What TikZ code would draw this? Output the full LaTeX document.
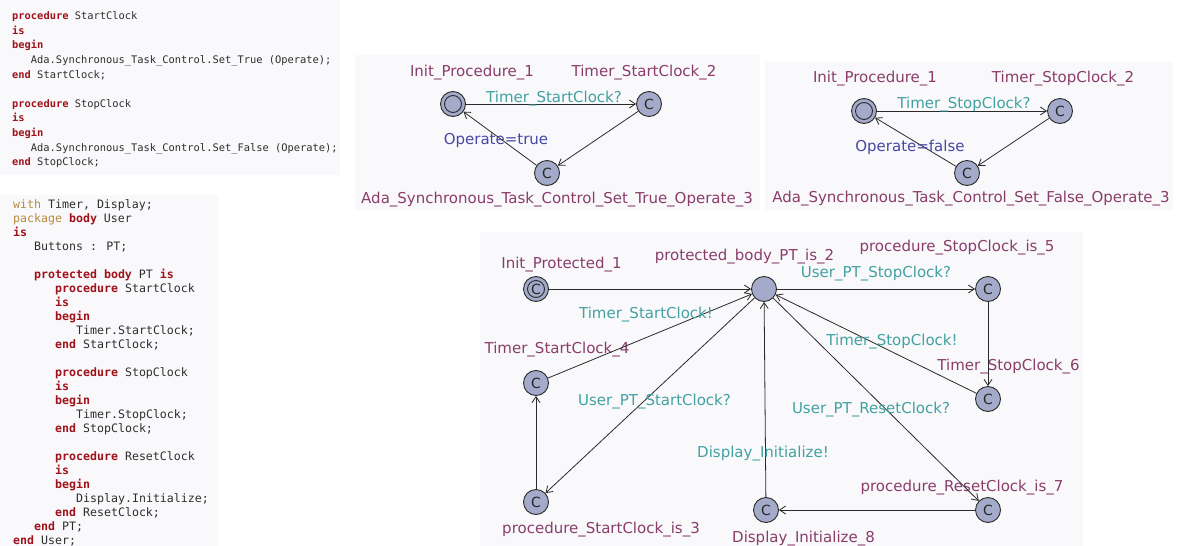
\documentclass[tikz,border=0pt]{standalone}
\usepackage{fontspec}
\setmainfont{DejaVu Sans}
\newfontfamily\codefont{DejaVu Sans Mono}
\usetikzlibrary{arrows.meta}

\definecolor{panelbg}{HTML}{F9F9FB}
\definecolor{locfill}{HTML}{A4ABCA}
\definecolor{edgecol}{HTML}{2A2A2A}
\definecolor{namecol}{HTML}{8A3D6B}
\definecolor{synccol}{HTML}{43A1A1}
\definecolor{updcol}{HTML}{4747A5}
\definecolor{kwred}{HTML}{A0121B}
\definecolor{pkgold}{HTML}{B7893C}
\definecolor{codetext}{HTML}{2E2E2E}

% Ada syntax colouring
\newcommand\kw[1]{{\bfseries\color{kwred}#1}}
\newcommand\pk[1]{{\color{pkgold}#1}}

\tikzset{
  panel/.style={fill=panelbg, draw=none},
  loc/.style={circle, draw=edgecol, fill=locfill, line width=0.9pt,
    minimum size=25pt, inner sep=0pt, text=black!85,
    font=\fontsize{14}{14}\selectfont},
  initloc/.style={loc, path picture={\draw[edgecol, line width=0.9pt]
    (path picture bounding box.center) circle (8.5pt);}},
  locname/.style={anchor=base, inner sep=0pt, text=namecol,
    font=\fontsize{15}{16}\selectfont},
  sync/.style={locname, text=synccol},
  upd/.style={locname, text=updcol},
  trans/.style={draw=edgecol, line width=0.8pt,
    -{Straight Barb[length=6pt,width=8pt]}},
  codeA/.style={anchor=base west, inner sep=0pt, text=codetext,
    font=\codefont\fontsize{10.4}{12}\selectfont},
  codeB/.style={anchor=base west, inner sep=0pt, text=codetext,
    font=\codefont\fontsize{11.6}{13}\selectfont},
}

\begin{document}
\begin{tikzpicture}[x=1pt, y=-1pt]
\useasboundingbox (0,0) rectangle (1184,546);

% background panels
\fill[panel] (0,0) rectangle (340,175);
\fill[panel] (0,195) rectangle (218,546);
\fill[panel] (355,55) rectangle (760,210);
\fill[panel] (765,62) rectangle (1173,210);
\fill[panel] (480,232) rectangle (1083,546);

% ---------- procedures StartClock / StopClock ----------
\node[codeA] (a1)  at (12,19.7)    {\kw{procedure} StartClock};
\node[codeA] (a2)  at (12,34.3)    {\kw{is}};
\node[codeA] (a3)  at (12,48.9)    {\kw{begin}};
\node[codeA] (a4)  at (30.75,63.5) {Ada.Synchronous\_Task\_Control.Set\_True (Operate);};
\node[codeA] (a5)  at (12,78.1)    {\kw{end} StartClock;};
\node[codeA] (a7)  at (12,107.3)   {\kw{procedure} StopClock};
\node[codeA] (a8)  at (12,121.9)   {\kw{is}};
\node[codeA] (a9)  at (12,136.5)   {\kw{begin}};
\node[codeA] (a10) at (30.75,151.1){Ada.Synchronous\_Task\_Control.Set\_False (Operate);};
\node[codeA] (a11) at (12,165.7)   {\kw{end} StopClock;};

% ---------- package body User ----------
\node[codeB] (b1)  at (13,208.2) {\pk{with} Timer, Display;};
\node[codeB] (b2)  at (13,222.2) {\pk{package} \kw{body} User};
\node[codeB] (b3)  at (13,236.2) {\kw{is}};
\node[codeB] (b4)  at (34,250.2) {Buttons : PT;};
\node[codeB] (b6)  at (34,278.2) {\kw{protected} \kw{body} PT \kw{is}};
\node[codeB] (b7)  at (55,292.2) {\kw{procedure} StartClock};
\node[codeB] (b8)  at (55,306.2) {\kw{is}};
\node[codeB] (b9)  at (55,320.2) {\kw{begin}};
\node[codeB] (b10) at (76,334.2) {Timer.StartClock;};
\node[codeB] (b11) at (55,348.2) {\kw{end} StartClock;};
\node[codeB] (b13) at (55,376.2) {\kw{procedure} StopClock};
\node[codeB] (b14) at (55,390.2) {\kw{is}};
\node[codeB] (b15) at (55,404.2) {\kw{begin}};
\node[codeB] (b16) at (76,418.2) {Timer.StopClock;};
\node[codeB] (b17) at (55,432.2) {\kw{end} StopClock;};
\node[codeB] (b19) at (55,460.2) {\kw{procedure} ResetClock};
\node[codeB] (b20) at (55,474.2) {\kw{is}};
\node[codeB] (b21) at (55,488.2) {\kw{begin}};
\node[codeB] (b22) at (76,502.2) {Display.Initialize;};
\node[codeB] (b23) at (55,516.2) {\kw{end} ResetClock;};
\node[codeB] (b24) at (34,530.2) {\kw{end} PT;};
\node[codeB] (b25) at (13,544.2) {\kw{end} User;};

% ---------- automaton: StartClock ----------
\node[initloc] (sa1) at (453,104) {};
\node[loc]     (sa2) at (649,104) {C};
\node[loc]     (sa3) at (547,173) {C};
\node[locname] (sa1n) at (472,76)  {Init\_Procedure\_1};
\node[locname] (sa2n) at (644,76)  {Timer\_StartClock\_2};
\node[locname] (sa3n) at (557,203) {Ada\_Synchronous\_Task\_Control\_Set\_True\_Operate\_3};
\draw[trans] (sa1) -- (sa2);
\draw[trans] (sa2) -- (sa3);
\draw[trans] (sa3) -- (sa1);
\node[sync] (sas) at (554,102) {Timer\_StartClock?};
\node[upd]  (sau) at (496,144) {Operate=true};

% ---------- automaton: StopClock ----------
\node[initloc] (so1) at (864,111) {};
\node[loc]     (so2) at (1060,111) {C};
\node[loc]     (so3) at (967,173) {C};
\node[locname] (so1n) at (875,82)  {Init\_Procedure\_1};
\node[locname] (so2n) at (1063,82) {Timer\_StopClock\_2};
\node[locname] (so3n) at (971,202) {Ada\_Synchronous\_Task\_Control\_Set\_False\_Operate\_3};
\draw[trans] (so1) -- (so2);
\draw[trans] (so2) -- (so3);
\draw[trans] (so3) -- (so1);
\node[sync] (sos) at (964,108) {Timer\_StopClock?};
\node[upd]  (sou) at (910,151) {Operate=false};

% ---------- automaton: protected body PT ----------
\node[initloc] (p1) at (536,289) {C};
\node[loc] (p2) at (764,289) {};
\node[loc] (p3) at (536,502) {C};
\node[loc] (p4) at (536,383) {C};
\node[loc] (p5) at (988,289) {C};
\node[loc] (p6) at (988,399) {C};
\node[loc] (p7) at (988,510) {C};
\node[loc] (p8) at (766,510) {C};

\node[locname] (p1n) at (561.5,268) {Init\_Protected\_1};
\node[locname] (p2n) at (744.5,260) {protected\_body\_PT\_is\_2};
\node[locname] (p3n) at (601,533)   {procedure\_StartClock\_is\_3};
\node[locname] (p4n) at (557,353)   {Timer\_StartClock\_4};
\node[locname] (p5n) at (957,251)   {procedure\_StopClock\_is\_5};
\node[locname] (p6n) at (1008.5,370){Timer\_StopClock\_6};
\node[locname] (p7n) at (962,491)   {procedure\_ResetClock\_is\_7};
\node[locname] (p8n) at (803.5,542) {Display\_Initialize\_8};

\draw[trans] (p1) -- (p2);
\draw[trans] (p2) -- (p5);
\draw[trans] (p5) -- (p6);
\draw[trans] (p6) -- (p2);
\draw[trans] (p2) -- (p7);
\draw[trans] (p7) -- (p8);
\draw[trans] (p8) -- (p2);
\draw[trans] (p2) -- (p3);
\draw[trans] (p3) -- (p4);
\draw[trans] (p4) -- (p2);

\node[sync] (t25) at (876,277)   {User\_PT\_StopClock?};
\node[sync] (t42) at (646,318)   {Timer\_StartClock!};
\node[sync] (t62) at (892,345)   {Timer\_StopClock!};
\node[sync] (t23) at (654.5,405) {User\_PT\_StartClock?};
\node[sync] (t27) at (871,413)   {User\_PT\_ResetClock?};
\node[sync] (t82) at (763,457)   {Display\_Initialize!};
\end{tikzpicture}
\end{document}
